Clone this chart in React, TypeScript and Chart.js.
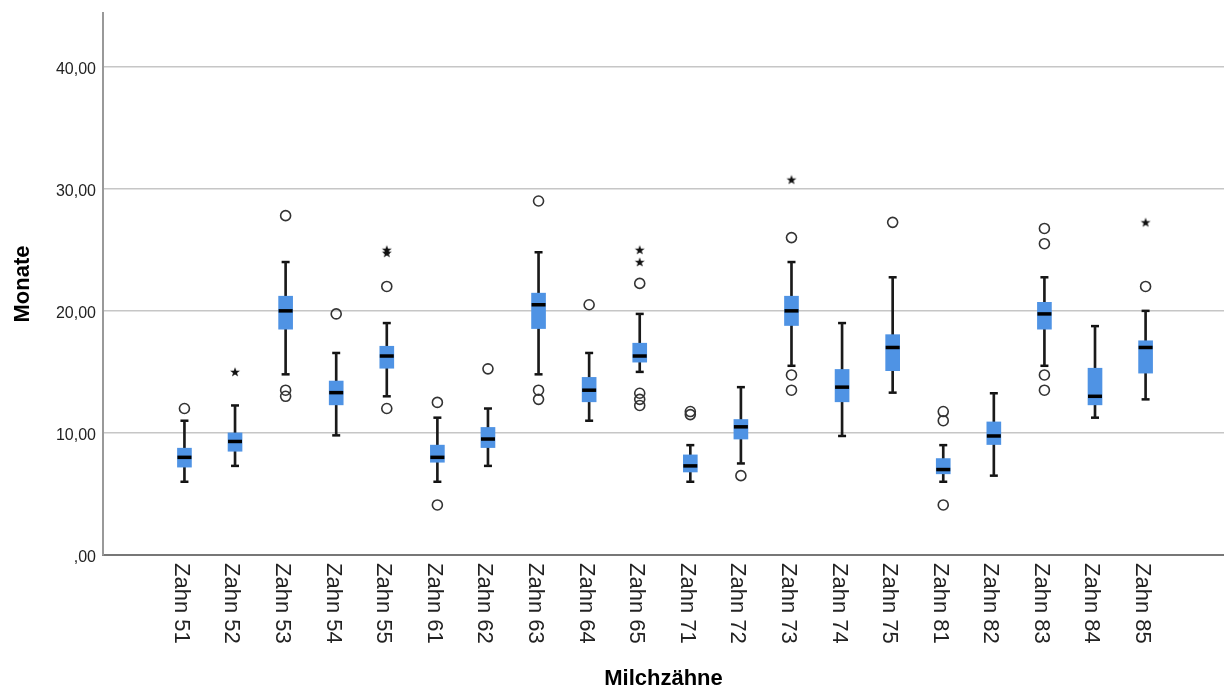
import React, { useEffect, useRef } from "react";
import { Chart, registerables } from "chart.js";

Chart.register(...registerables);

const categories = [
  "Zahn 51", "Zahn 52", "Zahn 53", "Zahn 54", "Zahn 55",
  "Zahn 61", "Zahn 62", "Zahn 63", "Zahn 64", "Zahn 65",
  "Zahn 71", "Zahn 72", "Zahn 73", "Zahn 74", "Zahn 75",
  "Zahn 81", "Zahn 82", "Zahn 83", "Zahn 84", "Zahn 85",
];

const whiskerLow = [6.0, 7.3, 14.8, 9.8, 13.0, 6.0, 7.3, 14.8, 11.0, 15.0, 6.0, 7.5, 15.5, 9.75, 13.3, 6.0, 6.5, 15.5, 11.25, 12.75];
const q1 = [7.2, 8.5, 18.5, 12.3, 15.3, 7.6, 8.8, 18.55, 12.55, 15.8, 6.8, 9.5, 18.8, 12.55, 15.1, 6.65, 9.05, 18.5, 12.3, 14.9];
const median = [8.0, 9.3, 20.0, 13.3, 16.3, 8.0, 9.5, 20.5, 13.5, 16.3, 7.3, 10.5, 20.0, 13.75, 17.0, 7.0, 9.75, 19.75, 13.0, 17.0];
const q3 = [8.75, 10.0, 21.2, 14.25, 17.1, 9.0, 10.45, 21.45, 14.55, 17.35, 8.2, 11.1, 21.2, 15.2, 18.05, 7.9, 10.9, 20.7, 15.3, 17.55];
const whiskerHigh = [11.0, 12.25, 24.0, 16.55, 19.0, 11.25, 12.0, 24.8, 16.55, 19.75, 9.0, 13.75, 24.0, 19.0, 22.75, 9.0, 13.25, 22.75, 18.75, 20.0];

// circle outliers per category
const outliers: number[][] = [
  [12.0],
  [],
  [27.8, 13.5, 13.0],
  [19.75],
  [22.0, 12.0],
  [12.5, 4.1],
  [15.25],
  [29.0, 13.5, 12.75],
  [20.5],
  [22.25, 13.25, 12.75, 12.25],
  [11.75, 11.5],
  [6.5],
  [26.0, 14.75, 13.5],
  [],
  [27.25],
  [11.75, 11.0, 4.1],
  [],
  [26.75, 25.5, 14.75, 13.5],
  [],
  [22.0],
];

// extreme values (stars) per category
const extremes: number[][] = [
  [], [15.0], [], [], [25.0, 24.75],
  [], [], [], [], [25.0, 24.0],
  [], [], [30.75], [], [],
  [], [], [], [], [27.25],
];

const yTickValues = [0, 10, 20, 30, 40];
const yTickLabels = [",00", "10,00", "20,00", "30,00", "40,00"];

const xAxisTitle = "Milchzähne";
const yAxisTitle = "Monate";

const FONT = '"Liberation Sans", Arial, Helvetica, sans-serif';

function makeStar(): HTMLCanvasElement {
  const c = document.createElement("canvas");
  c.width = 12;
  c.height = 12;
  const g = c.getContext("2d")!;
  g.fillStyle = "#111";
  g.beginPath();
  const cx = 6, cy = 6.4, R = 5.2, r = 2.1;
  for (let k = 0; k < 10; k++) {
    const rad = k % 2 === 0 ? R : r;
    const a = -Math.PI / 2 + (k * Math.PI) / 5;
    const px = cx + rad * Math.cos(a);
    const py = cy + rad * Math.sin(a);
    if (k === 0) g.moveTo(px, py);
    else g.lineTo(px, py);
  }
  g.closePath();
  g.fill();
  return c;
}

const xLabelPlugin = {
  id: "xRotLabels",
  afterDraw(chart: any) {
    const xs = chart.scales.x;
    const ctx = chart.ctx;
    ctx.save();
    ctx.font = `22px ${FONT}`;
    ctx.fillStyle = "#222";
    ctx.textAlign = "left";
    ctx.textBaseline = "middle";
    categories.forEach((c, i) => {
      const px = xs.getPixelForValue(i) - 3.5;
      ctx.save();
      ctx.translate(px, xs.top + 8);
      ctx.rotate(Math.PI / 2);
      ctx.fillText(c, 0, 0);
      ctx.restore();
    });
    ctx.restore();
  },
};

export default function App() {
  const ref = useRef<HTMLCanvasElement | null>(null);

  useEffect(() => {
    if (!ref.current) return;
    const star = makeStar();

    const outlierPts: { x: number; y: number }[] = [];
    outliers.forEach((arr, i) => arr.forEach((v) => outlierPts.push({ x: i, y: v })));
    const extremePts: { x: number; y: number }[] = [];
    extremes.forEach((arr, i) => arr.forEach((v) => extremePts.push({ x: i, y: v })));
    const capPts: { x: number; y: number }[] = [];
    categories.forEach((_, i) => {
      capPts.push({ x: i, y: whiskerLow[i] });
      capPts.push({ x: i, y: whiskerHigh[i] });
    });

    const chart = new Chart(ref.current, {
      type: "scatter",
      data: {
        datasets: [
          {
            type: "scatter",
            label: "Median",
            data: median.map((m, i) => ({ x: i, y: m })),
            pointStyle: "line",
            pointRadius: 7,
            borderWidth: 3.5,
            borderColor: "#000",
            order: 0,
          } as any,
          {
            type: "bar",
            label: "Box",
            data: q1.map((v, i) => ({ x: i, y: [v, q3[i]] })),
            backgroundColor: "#4f93e4",
            borderWidth: 0,
            barThickness: 14,
            grouped: false,
            order: 1,
          } as any,
          {
            type: "bar",
            label: "Whisker",
            data: whiskerLow.map((v, i) => ({ x: i, y: [v, whiskerHigh[i]] })),
            backgroundColor: "#1a1a1a",
            borderWidth: 0,
            barThickness: 2,
            grouped: false,
            order: 2,
          } as any,
          {
            type: "scatter",
            label: "Caps",
            data: capPts,
            pointStyle: "line",
            pointRadius: 4,
            borderWidth: 2.5,
            borderColor: "#111",
            order: 2,
          } as any,
          {
            type: "scatter",
            label: "Ausreißer",
            data: outlierPts,
            pointStyle: "circle",
            pointRadius: 5,
            borderWidth: 1.6,
            borderColor: "#333",
            backgroundColor: "rgba(0,0,0,0)",
            order: 3,
          } as any,
          {
            type: "scatter",
            label: "Extremwerte",
            data: extremePts,
            pointStyle: star,
            pointRadius: 6,
            order: 3,
          } as any,
        ],
      },
      options: {
        animation: false,
        responsive: true,
        maintainAspectRatio: false,
        events: [],
        layout: { padding: { top: 13, left: 0, right: 0, bottom: 0 }, autoPadding: false },
        plugins: {
          legend: { display: false },
          tooltip: { enabled: false },
        },
        scales: {
          x: {
            type: "linear",
            min: -1.61,
            max: 20.55,
            offset: false,
            grid: { display: false, offset: false, drawTicks: false },
            border: { display: true, color: "#777", width: 2 },
            ticks: { display: false },
            title: {
              display: true,
              text: xAxisTitle,
              color: "#000",
              font: { family: FONT, size: 22, weight: "bold", lineHeight: 0.9 },
              padding: { top: 0, bottom: 0 },
            },
            afterFit(scale: any) {
              scale.height = 134;
              scale.paddingLeft = 0;
              scale.paddingRight = 0;
            },
          },
          y: {
            type: "linear",
            min: 0,
            max: 44.4,
            grid: {
              drawTicks: false,
              lineWidth: 1.5,
              color: (c: any) => (c.tick && c.tick.value === 0 ? "rgba(0,0,0,0)" : "#c6c6c6"),
            },
            border: { display: true, color: "#999", width: 2 },
            ticks: {
              padding: 7,
              labelOffset: 2.5,
              color: "#222",
              font: { family: FONT, size: 16 },
              callback: (_v: any, i: number) => yTickLabels[i],
            },
            afterBuildTicks(scale: any) {
              scale.ticks = yTickValues.map((v) => ({ value: v }));
            },
            title: {
              display: true,
              text: yAxisTitle,
              color: "#000",
              font: { family: FONT, size: 22, weight: "bold", lineHeight: 1 },
              padding: { top: 12, bottom: 0 },
            },
            afterFit(scale: any) {
              scale.width = 103;
              scale.paddingTop = 0;
              scale.paddingBottom = 0;
            },
          },
        },
      } as any,
      plugins: [xLabelPlugin],
    });

    return () => chart.destroy();
  }, []);

  return (
    <div style={{ position: "absolute", left: 0, top: 0, width: 1224, height: 689 }}>
      <canvas ref={ref} />
    </div>
  );
}
